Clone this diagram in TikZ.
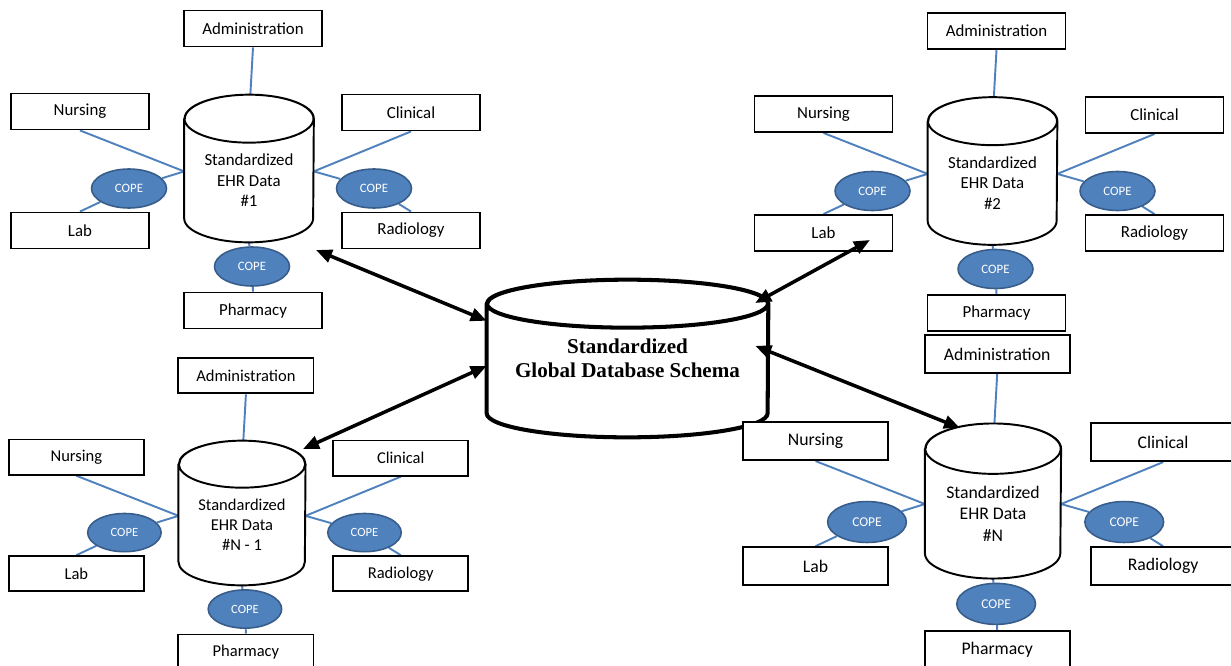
\documentclass[tikz,border=0pt]{standalone}
\usepackage{fontspec}
\setmainfont{Carlito}
\newfontfamily\schemafont{Liberation Serif}
\usetikzlibrary{shapes.geometric}
\usetikzlibrary{backgrounds}
\usetikzlibrary{arrows.meta}
\definecolor{copeblue}{RGB}{79,129,189}
\definecolor{copeline}{RGB}{56,93,138}

\tikzset{
  dept/.style={draw, line width=1.1pt, fill=white, minimum width=2.76cm,
    minimum height=0.72cm, inner sep=0pt, font=\fontsize{9.6}{11}\selectfont},
  % body of a cylinder, from the centre of the lid down to the bottom
  ehrdb/.style={rectangle, minimum width=2.58cm, minimum height=2.46cm,
    inner sep=0pt, align=center, font=\fontsize{9.6}{11.6}\selectfont},
  globaldb/.style={rectangle, minimum width=5.62cm, minimum height=3.14cm,
    inner sep=0pt, align=center,
    font=\schemafont\bfseries\fontsize{12}{13.6}\selectfont},
  dbline/.style={draw, line width=1.1pt, line join=round, fill=white},
  globline/.style={draw, line width=2.3pt, line join=round, fill=white},
  cope/.style={ellipse, fill=copeblue, draw=copeline, line width=0.9pt,
    minimum width=1.5cm, minimum height=0.78cm, inner sep=0pt, text=white,
    font=\fontsize{7.3}{8}\selectfont},
  tie/.style={copeblue, line width=1.1pt},
  dblarrow/.style={<->, line width=2pt}
}

% one hospital site: #1 name, #2 x, #3 y, #4 scale, #5 number
\newcommand{\ehrsite}[5]{%
  \begin{scope}[shift={(#2,#3)}, scale=#4, transform shape]
    \node[ehrdb] (#1-db) at (0,12) {Standardized\\EHR Data\\\##5};
    \node[dept] (#1-adm) at (4,-140) {Administration};
    \node[dept] (#1-nurs) at (-169,-57) {Nursing};
    \node[dept] (#1-clin) at (162,-56) {Clinical};
    \node[dept] (#1-lab) at (-169,62) {Lab};
    \node[dept] (#1-rad) at (162,62) {Radiology};
    \node[dept] (#1-pharm) at (4,142) {Pharmacy};
    \node[cope] (#1-copel) at (-120,20) {COPE};
    \node[cope] (#1-coper) at (125,20) {COPE};
    \node[cope] (#1-copeb) at (3,98) {COPE};
    \begin{scope}[on background layer]
      \draw[tie] (#1-adm.south) -- (#1-db.north);
      \draw[tie] (#1-nurs.south) -- (#1-db.172);
      \draw[tie] (#1-db.172) -- (#1-copel) -- (#1-lab.north);
      \draw[tie] (#1-clin.south) -- (#1-db.8);
      \draw[tie] (#1-db.8) -- (#1-coper) -- (#1-rad.north);
      \draw[tie] (#1-db.south) -- (#1-copeb) -- (#1-pharm.north);
      % the cylinder itself
      \path[dbline] (#1-db.north west) -- ([yshift=0.48cm]#1-db.south west)
        arc[start angle=180, end angle=360, x radius=1.29cm, y radius=0.48cm]
        -- (#1-db.north east)
        arc[start angle=0, end angle=180, x radius=1.29cm, y radius=0.48cm] -- cycle
        (#1-db.north) ellipse[x radius=1.29cm, y radius=0.48cm];
    \end{scope}
  \end{scope}}

\begin{document}
\begin{tikzpicture}[x=0.02cm, y=-0.02cm, >={Triangle[length=3.2mm, width=2.6mm]}]
  \useasboundingbox (0,0) rectangle (1231,666);

  % global schema
  \node[globaldb] (glob) at (627.5,358.5) {Standardized\\Global Database Schema};
  \begin{scope}[on background layer]
    \path[globline] ([yshift=-0.48cm]glob.north west) -- ([yshift=0.48cm]glob.south west)
      arc[start angle=180, end angle=360, x radius=2.81cm, y radius=0.48cm]
      -- ([yshift=-0.48cm]glob.north east)
      arc[start angle=0, end angle=180, x radius=2.81cm, y radius=0.48cm] -- cycle
      ([yshift=-0.48cm]glob.north) ellipse[x radius=2.81cm, y radius=0.48cm];
  \end{scope}

  % hospital sites
  \ehrsite{s1}{249}{168.5}{1}{1}
  \ehrsite{s2}{992.5}{171}{1}{2}
  \ehrsite{s3}{242}{513}{0.98}{N - 1}
  \ehrsite{sN}{993}{501}{1.05}{N}

  % links to the global schema
  \coordinate (s1-link) at (316,250);
  \coordinate (s2-link) at (870,240);
  \coordinate (s3-link) at (303,449);
  \coordinate (sN-link) at (960,428);
  \draw[dblarrow] (glob.165) -- (s1-link);
  \draw[dblarrow, shorten <=-0.3cm] (glob.24) -- (s2-link);
  \draw[dblarrow] (glob.183) -- (s3-link);
  \draw[dblarrow, shorten <=-0.28cm] (glob.3) -- (sN-link);
\end{tikzpicture}
\end{document}
